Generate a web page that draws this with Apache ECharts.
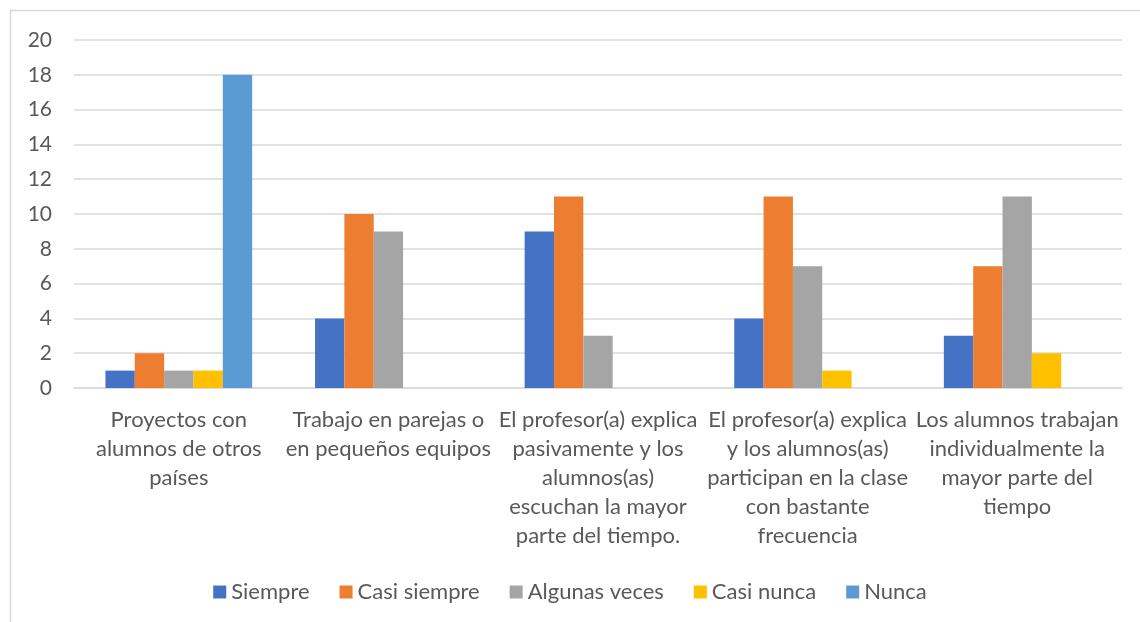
<!DOCTYPE html>
<html>
<head>
<meta charset="utf-8">
<script src="https://cdn.jsdelivr.net/npm/echarts@6/dist/echarts.min.js"></script>
<style>
    html, body { margin: 0; padding: 0; background: #fff; }
    #chart { width: 1140px; height: 622px; }
</style>
</head>
<body>
<div id="chart"></div>
<script>
// categorias (eje x)
var categories = [
    'Proyectos con\nalumnos de otros\npaíses',
    'Trabajo en parejas o\nen pequeños equipos',
    'El profesor(a) explica\npasivamente y los\nalumnos(as)\nescuchan la mayor\nparte del tiempo.',
    'El profesor(a) explica\ny los alumnos(as)\nparticipan en la clase\ncon bastante\nfrecuencia',
    'Los alumnos trabajan\nindividualmente la\nmayor parte del\ntiempo'
];
var seriesNames = ['Siempre', 'Casi siempre', 'Algunas veces', 'Casi nunca', 'Nunca'];
var siempre = [1, 4, 9, 4, 3];
var casiSiempre = [2, 10, 11, 11, 7];
var algunasVeces = [1, 9, 3, 7, 11];
var casiNunca = [1, 0, 0, 1, 2];
var nunca = [18, 0, 0, 0, 0];
var colors = ['#4472c4', '#ed7d31', '#a5a5a5', '#ffc000', '#5b9bd5'];

var chartsObj = echarts.init(document.getElementById('chart'));
var fontFamily = 'Lato, "Open Sans", sans-serif';
var allData = [siempre, casiSiempre, algunasVeces, casiNunca, nunca];

var series = [];
for (var i = 0; i < seriesNames.length; i++) {
    series.push({
        name: seriesNames[i],
        type: 'bar',
        barGap: '0%',
        barCategoryGap: '30%',
        itemStyle: { color: colors[i] },
        data: allData[i]
    });
}

var option = {
    animation: false,
    color: colors,
    textStyle: { fontFamily: fontFamily },
    graphic: [{
        type: 'rect',
        shape: { x: 10.5, y: 10.5, width: 1140, height: 640 },
        style: { fill: 'none', stroke: '#d9d9d9', lineWidth: 1.5 },
        silent: true
    }],
    grid: {
        left: 74,
        right: 18,
        top: 40,
        bottom: 234
    },
    legend: {
        top: 576,
        left: 'center',
        itemWidth: 13,
        itemHeight: 13,
        itemGap: 30,
        icon: 'rect',
        textStyle: { fontSize: 22, color: '#595959', fontFamily: fontFamily },
        data: seriesNames
    },
    xAxis: {
        type: 'category',
        data: categories,
        axisLine: { lineStyle: { color: '#d9d9d9', width: 1.5 } },
        axisTick: { show: false },
        axisLabel: {
            interval: 0,
            margin: 17,
            fontSize: 22,
            lineHeight: 29,
            color: '#595959',
            fontFamily: fontFamily
        }
    },
    yAxis: {
        type: 'value',
        min: 0,
        max: 20,
        interval: 2,
        axisLine: { show: false },
        axisTick: { show: false },
        splitLine: { lineStyle: { color: '#d9d9d9', width: 1.5 } },
        axisLabel: {
            margin: 22,
            fontSize: 21,
            color: '#595959',
            fontFamily: fontFamily
        }
    },
    series: series
};

chartsObj.setOption(option);
</script>
</body>
</html>
